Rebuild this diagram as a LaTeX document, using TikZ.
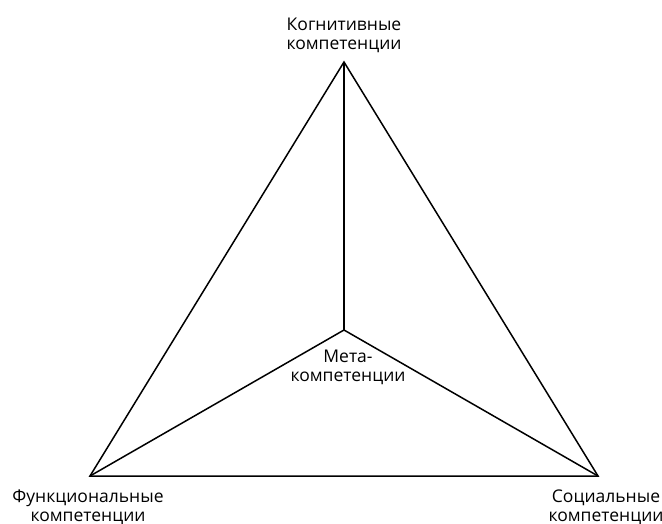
\documentclass[tikz,border=0pt]{standalone}
\usepackage{fontspec}
\setmainfont{Open Sans}
\begin{document}
\begin{tikzpicture}[x=1pt,y=-1pt,
  lbl/.style={align=center,font=\fontsize{17.5}{18.5}\selectfont,inner sep=0pt},
  edge/.style={line width=1.5pt,line join=miter}]
\useasboundingbox (0,0) rectangle (662,523);
\coordinate (T) at (344,62);
\coordinate (L) at (90,476);
\coordinate (R) at (598,476);
\coordinate (C) at (344,330);
\draw[edge] (T) -- (L) -- (R) -- cycle;
\draw[edge] (C) -- (T);
\draw[edge] (C) -- (L);
\draw[edge] (C) -- (R);
\node[lbl,anchor=base] (tl) at (344,49) {Когнитивные\\компетенции};
\node[lbl,anchor=base] (ll) at (88,521) {Функциональные\\компетенции};
\node[lbl,anchor=base] (rl) at (606,521) {Социальные\\компетенции};
\node[lbl,anchor=base] (ml) at (348,381) {Мета-\\компетенции};
\end{tikzpicture}
\end{document}
